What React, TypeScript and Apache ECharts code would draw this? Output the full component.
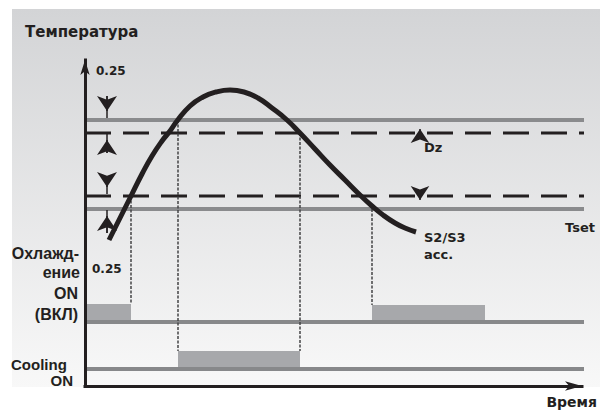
import React, { useEffect, useRef } from "react";
import * as echarts from "echarts";

// Time (x) is measured from the temperature axis, level (y) from the time axis.
const curveTime = [24, 35, 46, 57, 67, 77, 85, 92, 105, 118, 131, 145, 159, 173, 187, 202, 215, 230, 245, 260, 275, 287, 298, 310, 320, 331];
const curveTemp = [146, 168, 190, 212, 230, 245, 255, 265, 280, 289, 294, 296, 294, 288, 278, 266, 253, 237, 221, 206, 191, 180, 171, 163, 158, 154];

const solidLevels = [266, 177]; // Tset + Dz, Tset
const dashedLevels = [253, 190]; // Tset + Dz - 0.25, Tset + 0.25
const relayLevels = [64, 17]; // Охлаждение ON, Cooling ON
const lineEnd = 510;

const barStart = [0, 287, 93];
const barEnd = [46, 400, 215];
const barLow = [66, 66, 19];
const barHigh = [82, 81, 35];

const dropTime = [46, 93, 215, 287];
const dropTop = [190, 266, 253, 177];
const dropBottom = [82, 35, 35, 81];

// 0.25 band arrows beside the temperature axis: shaft start, head centre, tip
const arrowX = [22, 22, 22, 22];
const arrowFrom = [290, 233, 205, 153];
const arrowTo = [275, 246, 199, 170];
const arrowTip = [268, 252, 192, 176];

const dzX = [335, 335];
const dzFrom = [253, 190];
const dzTo = [257, 186];

const INK = "#231f20";
const DV = '"DejaVu Sans", sans-serif';
const LS = '"Liberation Sans", Arial, sans-serif';

function txt(text: string, x: number, y: number, size: number, family: string, align: string) {
  return {
    type: "text",
    x,
    y,
    z: 100,
    style: {
      text,
      font: `bold ${size}px ${family}`,
      fill: INK,
      align,
      textAlign: align,
      verticalAlign: "middle",
      textVerticalAlign: "middle",
    },
  };
}

export default function App() {
  const ref = useRef<HTMLDivElement>(null);
  useEffect(() => {
    if (!ref.current) return;
    const chart = echarts.init(ref.current, null, { renderer: "svg" });
    const hLine = (lvl: number, color: string, width: number, type: any) => ({
      type: "line",
      data: [
        [0, lvl],
        [lineEnd, lvl],
      ],
      showSymbol: false,
      symbol: "none",
      clip: false,
      silent: true,
      z: 3,
      lineStyle: { color, width, type, cap: "butt" },
    });
    const series: any[] = [];
    series.push({
      type: "custom",
      clip: false,
      z: 2,
      data: barStart.map((s, i) => [s, barEnd[i], barLow[i], barHigh[i]]),
      renderItem: (_p: any, api: any) => {
        const a = api.coord([api.value(0), api.value(3)]);
        const b = api.coord([api.value(1), api.value(2)]);
        return {
          type: "rect",
          shape: { x: a[0], y: a[1], width: b[0] - a[0], height: b[1] - a[1] },
          style: { fill: "#a7a8ab" },
        };
      },
    });
    solidLevels.forEach((l) => series.push(hLine(l, "#8a8b8d", 4, "solid")));
    relayLevels.forEach((l) => series.push(hLine(l, "#87888a", 4, "solid")));
    dashedLevels.forEach((l) => series.push(hLine(l, INK, 3, [26, 12])));
    dropTime.forEach((t, i) =>
      series.push({
        type: "line",
        data: [
          [t, dropTop[i]],
          [t, dropBottom[i]],
        ],
        showSymbol: false,
        symbol: "none",
        clip: false,
        z: 4,
        lineStyle: { color: "#444446", width: 1.5, type: [3, 1.5] },
      })
    );
    series.push({
      type: "line",
      data: curveTime.map((t, i) => [t, curveTemp[i]]),
      smooth: 0.5,
      showSymbol: false,
      symbol: "none",
      clip: false,
      z: 6,
      lineStyle: { color: INK, width: 5 },
    });
    // arrow shafts
    arrowX.forEach((x, i) =>
      series.push({
        type: "line",
        data: [
          [x, arrowFrom[i]],
          [x, arrowTip[i]],
        ],
        showSymbol: false,
        symbol: "none",
        clip: false,
        z: 7,
        lineStyle: { color: INK, width: 1.5 },
      })
    );
    series.push({
      type: "lines",
      coordinateSystem: "cartesian2d",
      symbol: ["none", "arrow"],
      symbolSize: [8, 15],
      z: 7,
      lineStyle: { color: INK, width: 1.5, opacity: 1 },
      data: arrowX.map((x, i) => ({ coords: [[x, arrowFrom[i]], [x, arrowTo[i]]] })),
    });
    series.push({
      type: "lines",
      coordinateSystem: "cartesian2d",
      symbol: ["none", "arrow"],
      symbolSize: [7, 14],
      z: 7,
      lineStyle: { color: INK, width: 1.5, opacity: 1 },
      data: dzX.map((x, i) => ({ coords: [[x, dzFrom[i]], [x, dzTo[i]]] })),
    });

    const axisCommon = {
      type: "value",
      min: 0,
      z: 5,
      axisTick: { show: false },
      axisLabel: { show: false },
      splitLine: { show: false },
    };

    chart.setOption({
      animation: false,
      graphic: [
        {
          type: "rect",
          z: -100,
          shape: { x: 12, y: 9, width: 588, height: 378 },
          style: {
            fill: new echarts.graphic.LinearGradient(0, 0, 0, 1, [
              { offset: 0, color: "#d3d4d6" },
              { offset: 1, color: "#f8f8f8" },
            ]),
          },
        },
        txt("Температура", 25, 32, 15, DV, "left"),
        txt("0.25", 96, 71, 12, DV, "left"),
        txt("0.25", 92, 269, 12, DV, "left"),
        txt("Охлажд-", 79, 253.5, 16, LS, "right"),
        txt("ение", 80, 272.5, 16, LS, "right"),
        txt("ON", 78, 293.5, 16, LS, "right"),
        txt("(ВКЛ)", 78, 314.5, 16, LS, "right"),
        txt("Cooling", 11, 364, 15, LS, "left"),
        txt("ON", 73, 380, 15, LS, "right"),
        txt("Dz", 424, 147.5, 13, DV, "left"),
        txt("Tset", 565, 227.5, 13, DV, "left"),
        txt("S2/S3", 424, 237.5, 13, DV, "left"),
        txt("acc.", 424, 254.5, 13, DV, "left"),
        txt("Время", 597, 402, 14, DV, "right"),
      ],
      grid: { left: 85, top: 60, width: 497, height: 326 },
      xAxis: {
        ...axisCommon,
        max: 497,
        axisLine: {
          show: true,
          onZero: false,
          symbol: ["none", "arrow"],
          symbolSize: [7, 17],
          lineStyle: { color: INK, width: 3, cap: "square" },
        },
      },
      yAxis: {
        ...axisCommon,
        max: 326,
        axisLine: {
          show: true,
          onZero: false,
          symbol: ["none", "arrow"],
          symbolSize: [7, 15],
          lineStyle: { color: INK, width: 3, cap: "square" },
        },
      },
      series,
    });
    return () => chart.dispose();
  }, []);
  return (
    <div
      ref={ref}
      style={{ position: "fixed", left: 0, top: 0, width: 600, height: 410, background: "#ffffff" }}
    />
  );
}
